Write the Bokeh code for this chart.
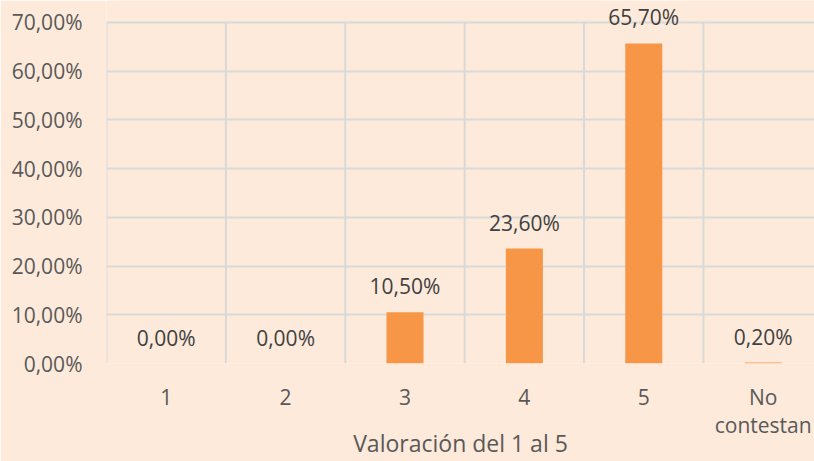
from bokeh.plotting import figure
from bokeh.models import FixedTicker, ColumnDataSource, LabelSet
from bokeh.core.properties import value
from bokeh.embed import file_html
from bokeh.resources import INLINE

categories = ["1", "2", "3", "4", "5", "No\ncontestan"]
percentages = [0.0, 0.0, 10.5, 23.6, 65.7, 0.2]
y_ticks = [0, 10, 20, 30, 40, 50, 60, 70]
y_tick_labels = ["0,00%", "10,00%", "20,00%", "30,00%", "40,00%", "50,00%", "60,00%", "70,00%"]
x_title = "Valoración del 1 al 5"

BG = "#FDEADB"
GRID = "#D9D9D9"
FONT = "Open Sans"

y_max = y_ticks[-1]
xs = list(range(1, len(categories) + 1))
bounds = [x - 0.5 for x in xs] + [len(xs) + 0.5]
labels = [f"{v:.2f}".replace(".", ",") + "%" for v in percentages]
src = ColumnDataSource(dict(x=xs, top=percentages, label=labels))

p = figure(width=814, height=461, output_backend="svg", toolbar_location=None,
           x_range=(0.5, 6.43), y_range=(0, 74.5),
           min_border_left=106, min_border_right=0, min_border_top=0, min_border_bottom=98,
           background_fill_color=BG, border_fill_color=BG)
p.outline_line_color = None

# vertical category separators, limited to the value range
p.segment(x0=bounds, y0=[0] * len(bounds), x1=bounds, y1=[y_max] * len(bounds),
          line_color=GRID, line_width=2)

p.vbar(x="x", top="top", width=0.31, source=src, color="#F79646", line_color=None)
p.add_layout(LabelSet(x="x", y="top", text="label", source=src, text_align="center",
                      text_baseline="alphabetic", y_offset=18, text_font=value(FONT),
                      text_font_size="21px", text_color="#404040"))

p.xaxis.ticker = FixedTicker(ticks=xs)
p.xaxis.major_label_overrides = {x: c for x, c in zip(xs, categories)}
p.xgrid.grid_line_color = None
p.yaxis.ticker = FixedTicker(ticks=y_ticks)
p.yaxis.major_label_overrides = {t: l for t, l in zip(y_ticks, y_tick_labels)}
p.ygrid.grid_line_color = GRID
p.ygrid.grid_line_width = 2

for ax in (p.xaxis[0], p.yaxis[0]):
    ax.axis_line_color = None
    ax.major_tick_line_color = None
    ax.minor_tick_line_color = None
    ax.major_tick_in = 0
    ax.major_tick_out = 0
    ax.major_label_text_font = FONT
    ax.major_label_text_font_size = "21px"
    ax.major_label_text_color = "#595959"

p.yaxis.major_label_standoff = 24
p.xaxis.major_label_standoff = 19
p.xaxis.major_label_text_line_height = 1.0
p.xaxis.axis_label = x_title
p.xaxis.axis_label_text_font = FONT
p.xaxis.axis_label_text_font_size = "23px"
p.xaxis.axis_label_text_font_style = "normal"
p.xaxis.axis_label_text_color = "#595959"
p.xaxis.axis_label_standoff = -15

p.renderers = p.renderers  # keep order: grid segments below bars

open("out.html", "w").write(file_html(p, INLINE))
